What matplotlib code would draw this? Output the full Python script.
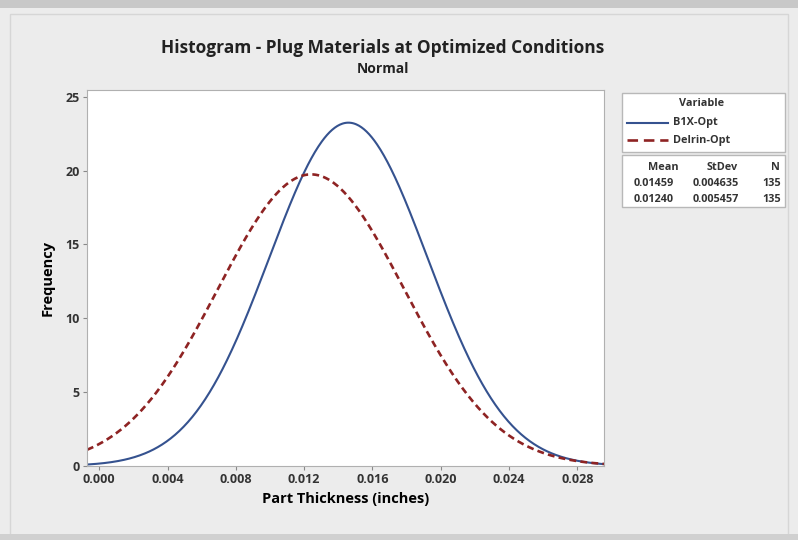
import numpy as np
import matplotlib
matplotlib.use("Agg")
import matplotlib.pyplot as plt
from matplotlib.patches import Rectangle
from matplotlib.lines import Line2D

# Data (fitted normal parameters shown in the chart)
variables = ["B1X-Opt", "Delrin-Opt"]
means = [0.01459, 0.01240]
stdevs = [0.004635, 0.005457]
counts = [135, 135]
bin_width = 0.002
x_ticks = [0.000, 0.004, 0.008, 0.012, 0.016, 0.020, 0.024, 0.028]
y_ticks = [0, 5, 10, 15, 20, 25]

colors = ["#35528f", "#8e2323"]
styles = ["-", (0, (2.6, 1.6))]
legend_styles = ["-", (0, (4.0, 2.2))]
widths = [1.5, 1.9]

plt.rcParams['font.family'] = ['Open Sans', 'DejaVu Sans']
fig = plt.figure(figsize=(7.98, 5.40), dpi=100)
fig.patch.set_facecolor("#ececec")

# outer frame
fig.add_artist(Rectangle((0, 0.985), 1, 0.015, transform=fig.transFigure,
                         facecolor="#c8c8c8", edgecolor="none"))
fig.add_artist(Rectangle((0.012, 0.0), 0.976, 0.975, transform=fig.transFigure,
                         facecolor="none", edgecolor="#d6d6d6", lw=1))
fig.add_artist(Rectangle((0, 0.0), 1, 0.012, transform=fig.transFigure,
                         facecolor="#d0d0d0", edgecolor="none"))

ax = fig.add_axes([87/798, 1-466/540, (604-87)/798, (466-90)/540])
ax.set_facecolor("white")

xmin, xmax = -0.00072, 0.02956
xs = np.linspace(xmin, xmax, 600)
for m, s, n, c, ls, w in zip(means, stdevs, counts, colors, styles, widths):
    ys = n * bin_width * np.exp(-0.5 * ((xs - m) / s) ** 2) / (s * np.sqrt(2 * np.pi))
    ax.plot(xs, ys, color=c, linestyle=ls, lw=w)

ax.set_xlim(xmin, xmax)
ax.set_ylim(0, 25.45)
ax.set_xticks(x_ticks)
ax.set_xticklabels([f"{t:.3f}" for t in x_ticks])
ax.set_yticks(y_ticks)
ax.tick_params(labelsize=9, length=3, color="#888888", pad=2)
for lbl in ax.get_xticklabels() + ax.get_yticklabels():
    lbl.set_fontweight("bold")
    lbl.set_color("#333333")
for sp in ax.spines.values():
    sp.set_color("#b0b0b0")
ax.set_xlabel("Part Thickness (inches)", fontsize=10.5, fontweight="bold", labelpad=4)
ax.set_ylabel("Frequency", fontsize=10.5, fontweight="bold", labelpad=8)

fig.text(0.48, 1-48/540, "Histogram - Plug Materials at Optimized Conditions",
         ha="center", va="center", fontsize=12.5, fontweight="bold", color="#222222")
fig.text(0.48, 1-69/540, "Normal", ha="center", va="center",
         fontsize=10, fontweight="bold", color="#222222")

# legend boxes
def fx(px):
    return px / 798
def fy(py):
    return 1 - py / 540

fig.add_artist(Rectangle((fx(622), fy(152)), fx(785) - fx(622), fy(93) - fy(152),
                         transform=fig.transFigure, facecolor="white", edgecolor="#b8b8b8", lw=1))
fig.add_artist(Rectangle((fx(622), fy(207)), fx(785) - fx(622), fy(155) - fy(207),
                         transform=fig.transFigure, facecolor="white", edgecolor="#b8b8b8", lw=1))
fs = 7.8
fig.text(fx(702), fy(103), "Variable", ha="center", va="center", fontsize=fs,
         fontweight="bold", color="#333333")
for i, (name, c, ls, w) in enumerate(zip(variables, colors, legend_styles, widths)):
    yy = fy(123 + 17 * i)
    fig.add_artist(Line2D([fx(627), fx(668)], [yy, yy], transform=fig.transFigure,
                          color=c, linestyle=ls, lw=w))
    fig.text(fx(673), yy, name, ha="left", va="center", fontsize=fs,
             fontweight="bold", color="#333333")

fig.text(fx(663), fy(168), "Mean", ha="center", va="center", fontsize=fs,
         fontweight="bold", color="#333333")
fig.text(fx(722), fy(168), "StDev", ha="center", va="center", fontsize=fs,
         fontweight="bold", color="#333333")
fig.text(fx(775), fy(168), "N", ha="center", va="center", fontsize=fs,
         fontweight="bold", color="#333333")
for i, (m, s, n) in enumerate(zip(means, stdevs, counts)):
    yy = fy(184 + 15 * i)
    fig.text(fx(654), yy, f"{m:.5f}", ha="center", va="center", fontsize=fs,
             fontweight="bold", color="#333333")
    fig.text(fx(716), yy, f"{s:.6f}", ha="center", va="center", fontsize=fs,
             fontweight="bold", color="#333333")
    fig.text(fx(772), yy, f"{n}", ha="center", va="center", fontsize=fs,
             fontweight="bold", color="#333333")

fig.savefig("out.png", dpi=100, facecolor=fig.get_facecolor())
